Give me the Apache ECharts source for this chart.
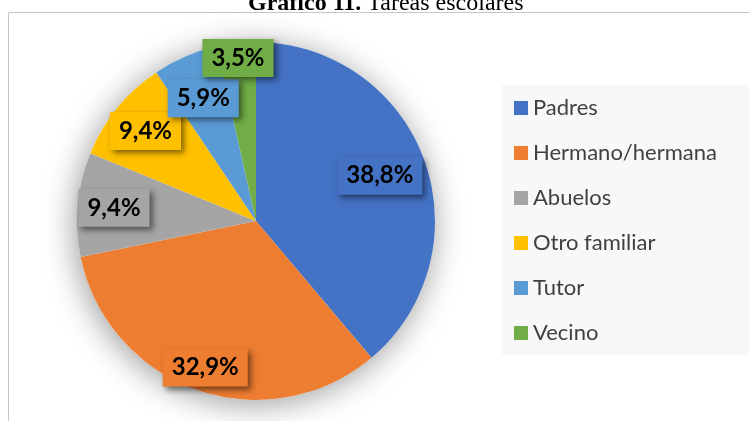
<!DOCTYPE html>
<html>
<head>
<meta charset="utf-8">
<script src="https://cdn.jsdelivr.net/npm/echarts@6/dist/echarts.min.js"></script>
<style>
  html, body { margin: 0; padding: 0; background: #fff; }
  #chart { width: 750px; height: 421px; }
</style>
</head>
<body>
<div id="chart"></div>
<script>
// datos del gráfico
const categorias = ['Padres', 'Hermano/hermana', 'Abuelos', 'Otro familiar', 'Tutor', 'Vecino'];
const porcentajes = [38.8, 32.9, 9.4, 9.4, 5.9, 3.5];
const colores = ['#4472C4', '#ED7D31', '#A5A5A5', '#FFC000', '#5B9BD5', '#70AD47'];

// posición radial de cada etiqueta (fracción del radio), como en Excel
const labelFrac = [0.72, 0.85, 0.78, 0.78, 0.73, 0.90];

const CX = 256, CY = 221, R = 179;
const total = porcentajes.reduce((a, b) => a + b, 0);

// ángulo medio de cada sector (desde arriba, sentido horario)
const midAngles = [];
let acc = 0;
porcentajes.forEach(v => {
  midAngles.push((acc + v / 2) / total * Math.PI * 2);
  acc += v;
});

const chart = echarts.init(document.getElementById('chart'), null, { renderer: 'canvas' });

const option = {
  animation: false,
  title: {
    text: '{b|Gráfico 11.} Tareas escolares',
    left: 243,
    top: -13,
    textStyle: {
      fontFamily: 'Liberation Serif',
      fontSize: 24,
      fontWeight: 'normal',
      color: '#000',
      rich: {
        b: { fontFamily: 'Liberation Serif', fontSize: 24, fontWeight: 'bold', color: '#000' }
      }
    }
  },
  graphic: [{
    type: 'rect',
    z: -10,
    shape: { x: 8.5, y: 12.5, width: 800, height: 500 },
    style: { fill: 'none', stroke: '#c6c6c6', lineWidth: 1 }
  }],
  legend: {
    orient: 'vertical',
    left: 502,
    top: 85,
    data: categorias,
    icon: 'rect',
    itemWidth: 14,
    itemHeight: 14,
    itemGap: 23,
    backgroundColor: '#f8f8f8',
    padding: [12, 40, 11, 12],
    textStyle: {
      fontFamily: 'Lato',
      fontSize: 22,
      lineHeight: 20,
      color: '#404040'
    }
  },
  series: [
    {
      // sombra suave del círculo
      type: 'pie',
      silent: true,
      center: [CX, CY],
      radius: R,
      z: 1,
      label: { show: false },
      labelLine: { show: false },
      itemStyle: {
        color: '#fff',
        shadowBlur: 32,
        shadowColor: 'rgba(0,0,0,0.4)',
        shadowOffsetX: -2,
        shadowOffsetY: 4
      },
      data: [{ name: '_sombra', value: 1 }]
    },
    {
      type: 'pie',
      center: [CX, CY],
      radius: R,
      startAngle: 90,
      clockwise: true,
      z: 2,
      itemStyle: { borderWidth: 0 },
      labelLine: { show: false },
      label: {
        show: true,
        position: 'inside',
        formatter: p => p.value.toFixed(1).replace('.', ',') + '%',
        fontFamily: 'Lato',
        fontWeight: 'bold',
        fontSize: 24,
        color: '#000',
        padding: [8, 9, 6, 9],
        shadowBlur: 6,
        shadowOffsetX: 3,
        shadowOffsetY: 3,
        shadowColor: 'rgba(0,0,0,0.5)'
      },
      labelLayout: params => {
        const i = params.dataIndex;
        const d = (labelFrac[i] - 0.5) * R;
        return {
          dx: d * Math.sin(midAngles[i]),
          dy: -d * Math.cos(midAngles[i])
        };
      },
      data: categorias.map((c, i) => ({
        name: c,
        value: porcentajes[i],
        itemStyle: { color: colores[i] },
        label: { backgroundColor: colores[i] }
      }))
    }
  ]
};

chart.setOption(option);
</script>
</body>
</html>
